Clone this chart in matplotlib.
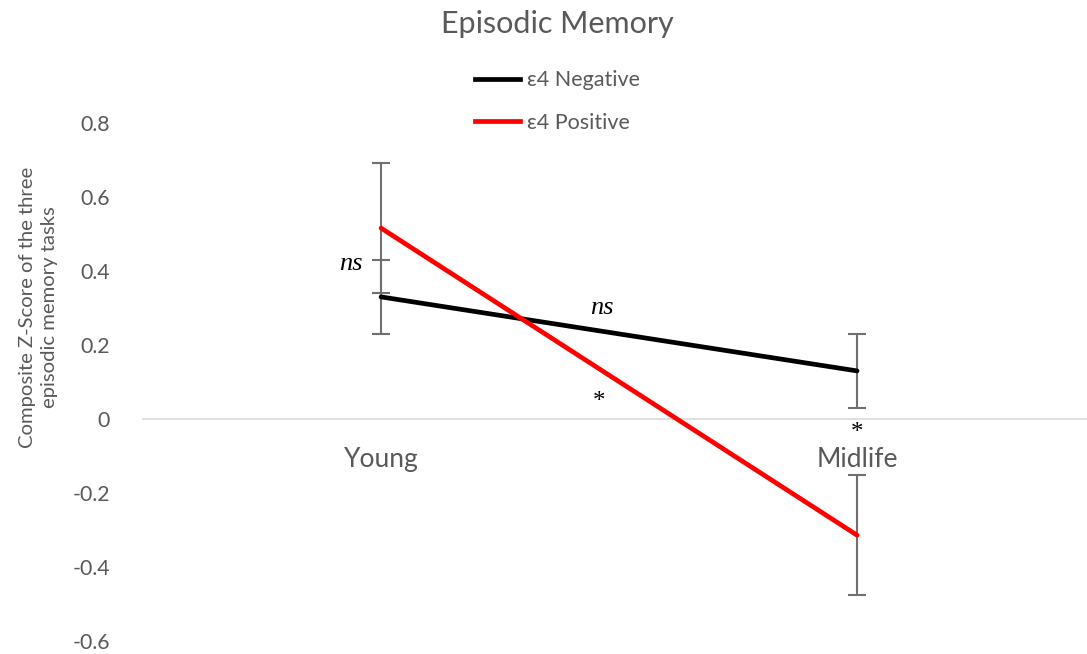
import matplotlib
matplotlib.use("Agg")
import matplotlib.pyplot as plt
from matplotlib.lines import Line2D

# Data
groups = ["Young", "Midlife"]
neg_mean = [0.33, 0.13]
neg_err = [0.10, 0.10]
pos_mean = [0.516, -0.314]
pos_err = [0.176, 0.163]
series_labels = ["\u03b54 Negative", "\u03b54 Positive"]
y_ticks = [-0.6, -0.4, -0.2, 0, 0.2, 0.4, 0.6, 0.8]
y_tick_labels = ["-0.6", "-0.4", "-0.2", "0", "0.2", "0.4", "0.6", "0.8"]

SANS = ["Lato", "DejaVu Sans"]
GREY = "#595959"
plt.rcParams["font.family"] = SANS

fig = plt.figure(figsize=(10.87, 6.54), dpi=100)
ax = fig.add_axes([0.1316, 0.0199, 0.8758, 0.792])

x = list(range(len(groups)))
err_kw = dict(fmt="none", ecolor="#707070", elinewidth=1.5, capsize=6.5, capthick=1.5, zorder=2)
ax.errorbar(x, neg_mean, yerr=neg_err, **err_kw)
ax.errorbar(x, pos_mean, yerr=pos_err, **err_kw)
ax.plot(x, neg_mean, color="black", lw=3.4, solid_capstyle="round", zorder=3)
ax.plot(x, pos_mean, color="#ff0000", lw=3.4, solid_capstyle="round", zorder=3)

ax.set_xlim(-0.5, 1.5)
ax.set_ylim(-0.6, 0.8)
ax.set_yticks(y_ticks)
ax.set_yticklabels(y_tick_labels)
ax.set_xticks(x)
ax.set_xticklabels(groups)

for s in ["top", "right", "left"]:
    ax.spines[s].set_visible(False)
ax.spines["bottom"].set_position(("data", 0))
ax.spines["bottom"].set_color("#d9d9d9")
ax.spines["bottom"].set_linewidth(1.2)
ax.tick_params(axis="y", length=0, pad=24, labelsize=15.3, labelcolor=GREY)
ax.tick_params(axis="x", length=0, pad=20, labelsize=19, labelcolor=GREY)

ax.set_ylabel("Composite Z-Score of the three\nepisodic memory tasks", fontsize=14.6,
              color=GREY, linespacing=1.4)
ax.yaxis.set_label_coords(-0.089, 0.645)

fig.text(0.513, 0.964, "Episodic Memory", ha="center", va="center", fontsize=22, color=GREY)

handles = [Line2D([0], [0], color="black", lw=3.4),
           Line2D([0], [0], color="#ff0000", lw=3.4)]
fig.legend(handles, series_labels, loc="center", bbox_to_anchor=(0.513, 0.845),
           frameon=False, fontsize=15.5, labelcolor=GREY, handlelength=2.1,
           handletextpad=0.33, labelspacing=1.05)

serif = dict(family="Liberation Serif", style="italic", fontsize=19, color="black")
ax.text(-0.038, 0.42, "ns", ha="right", va="center", **serif)
ax.text(0.464, 0.30, "ns", ha="center", va="center", **serif)
star = dict(family="Liberation Serif", fontsize=18, color="black")
ax.text(0.458, 0.045, "*", ha="center", va="center", **star)
ax.text(1.0, -0.037, "*", ha="center", va="center", **star)

fig.savefig("out.png", dpi=100)
